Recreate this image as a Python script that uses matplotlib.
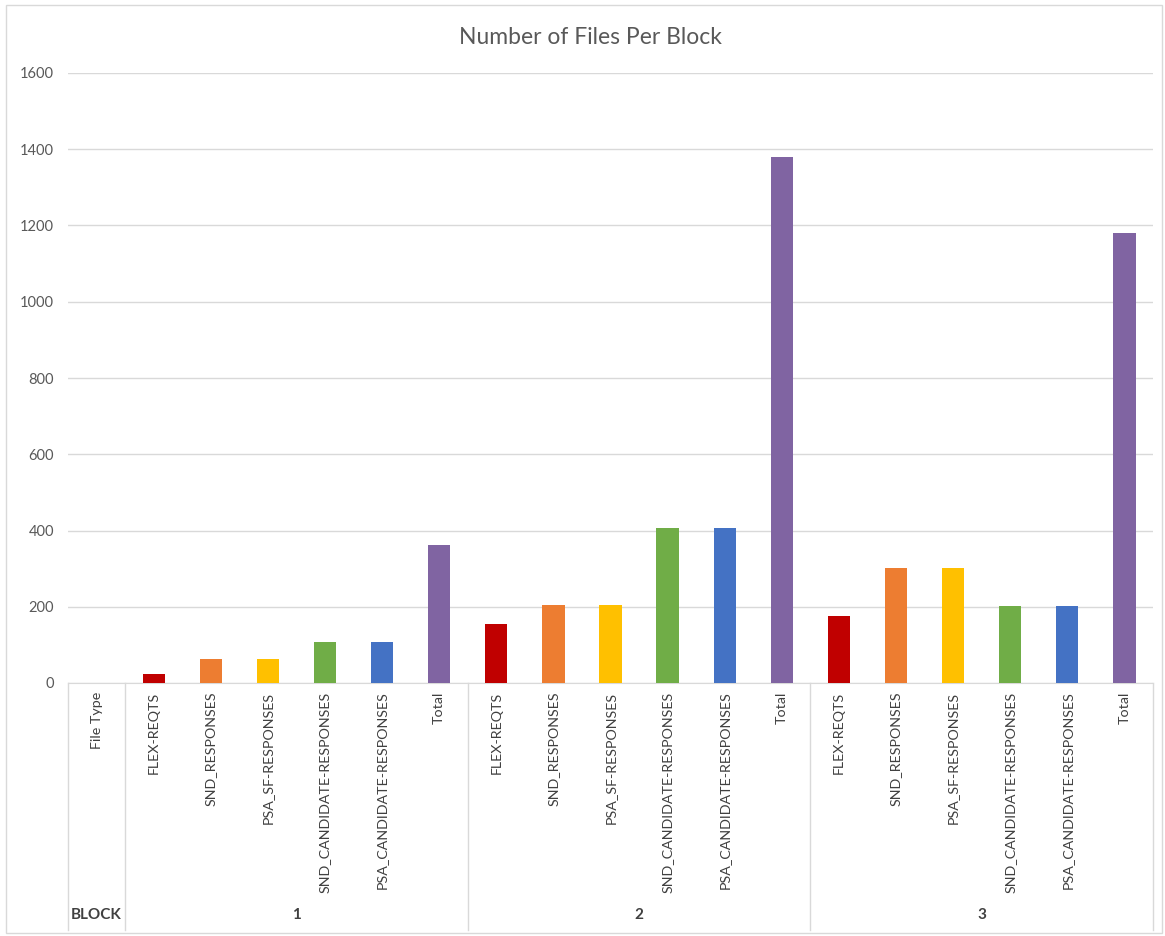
import matplotlib
matplotlib.use("Agg")
import matplotlib.pyplot as plt
import matplotlib.transforms as mtransforms
from matplotlib.patches import Rectangle

plt.rcParams["font.family"] = ["Lato", "DejaVu Sans"]

# donnees
blocks = ["1", "2", "3"]
file_types = ["FLEX-REQTS", "SND_RESPONSES", "PSA_SF-RESPONSES",
              "SND_CANDIDATE-RESPONSES", "PSA_CANDIDATE-RESPONSES", "Total"]
block1 = [24, 62, 62, 107, 107, 362]
block2 = [156, 205, 205, 407, 407, 1380]
block3 = [176, 301, 301, 201, 201, 1180]
colors = ["#C00000", "#ED7D31", "#FFC000", "#70AD47", "#4472C4", "#8064A2"]

GRAY_TXT = "#595959"
LABEL_TXT = "#404040"
GRID = "#D9D9D9"

fig = plt.figure(figsize=(11.65, 9.36), dpi=100)
ax = fig.add_axes([68 / 1165, 1 - 683 / 936, (1153 - 68) / 1165, (683 - 73) / 936])

# bordure du graphique
fig.patches.append(Rectangle((6 / 1165, 3 / 936), 1156 / 1165, 928 / 936,
                             transform=fig.transFigure, fill=False,
                             edgecolor="#D9D9D9", linewidth=1))

values = [block1, block2, block3]
n_cat = 1 + len(blocks) * len(file_types)
trans = mtransforms.blended_transform_factory(ax.transData, ax.transAxes)

for b, vals in enumerate(values):
    start = 1 + b * len(file_types)
    xs = [start + i for i in range(len(file_types))]
    ax.bar(xs, vals, width=0.39, color=colors, zorder=3)
    for x, name in zip(xs, file_types):
        ax.text(x, -0.014, name, rotation=90, ha="center", va="top",
                transform=trans, fontsize=10.3, color=LABEL_TXT)
    ax.text(start + (len(file_types) - 1) / 2, -0.38, blocks[b], ha="center",
            va="center", transform=trans, fontsize=11, fontweight="bold",
            color=LABEL_TXT)

ax.text(0, -0.014, "File Type", rotation=90, ha="center", va="top",
        transform=trans, fontsize=10.3, color=LABEL_TXT)
ax.text(0, -0.38, "BLOCK", ha="center", va="center", transform=trans,
        fontsize=11, fontweight="bold", color=LABEL_TXT)

# separateurs verticaux sous l'axe
for sep in [-0.5, 0.5, 6.5, 12.5, 18.5]:
    ax.plot([sep, sep], [0, -0.405], transform=trans, color=GRID,
            linewidth=1, clip_on=False)

ax.set_xlim(-0.5, n_cat - 0.5)
ax.set_ylim(0, 1600)
ax.set_yticks(range(0, 1601, 200))
ax.set_xticks([])
ax.yaxis.grid(True, color=GRID, linewidth=1, zorder=0)
ax.tick_params(axis="y", length=0, labelsize=10.5, labelcolor=GRAY_TXT, pad=10)
for side in ["top", "right", "left"]:
    ax.spines[side].set_visible(False)
ax.spines["bottom"].set_color(GRID)

fig.text(590 / 1165, 1 - 37 / 936, "Number of Files Per Block", ha="center",
         va="center", fontsize=16.5, color=GRAY_TXT)

fig.savefig("out.png", dpi=100)
